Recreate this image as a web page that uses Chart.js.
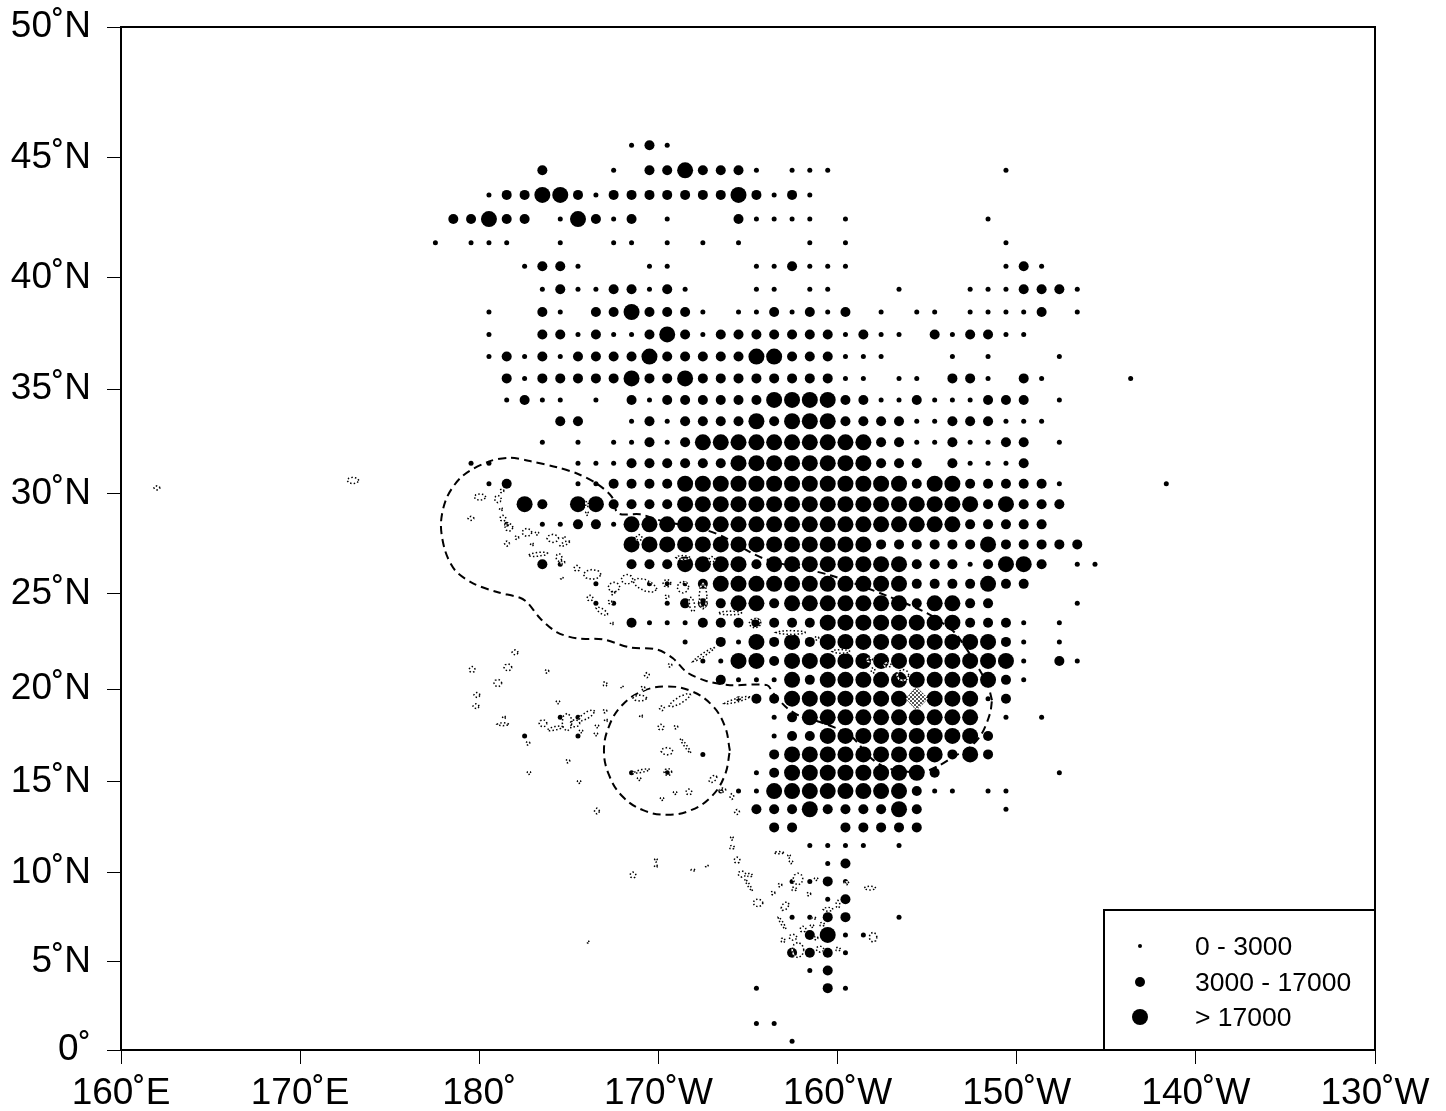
<!DOCTYPE html>
<html>
<head>
<meta charset="utf-8">
<title>Catch map</title>
<script src="https://cdn.jsdelivr.net/npm/chart.js@4"></script>
<style>
  html, body { margin: 0; padding: 0; background: #fff; }
  canvas { display: block; }
</style>
</head>
<body>
<canvas id="map" width="1446" height="1111"></canvas>
<script>
const lonTicks = [160, 170, 180, 190, 200, 210, 220, 230]
const lonLabels = ['160˚E', '170˚E', '180˚', '170˚W', '160˚W', '150˚W', '140˚W', '130˚W']
const latTicks = [0, 5, 10, 15, 20, 25, 30, 35, 40, 45, 50]
const latLabels = ['0˚', '5˚N', '10˚N', '15˚N', '20˚N', '25˚N', '30˚N', '35˚N', '40˚N', '45˚N', '50˚N']

// cell centres, degrees east., they drift a little from the axis
const colLons = [177.55, 178.55, 179.54, 180.54, 181.53, 182.53, 183.52, 184.52, 185.51, 186.51,
  187.50, 188.50, 189.50, 190.49, 191.49, 192.48, 193.48, 194.47, 195.47, 196.46,
  197.46, 198.45, 199.45, 200.44, 201.44, 202.43, 203.43, 204.42, 205.42, 206.41,
  207.40, 208.40, 209.40, 210.39, 211.39, 212.38, 213.38, 214.37, 215.37, 216.36, 217.36, 218.35]

// one row per latitude: first column index, then catch class per cell (. none, 1 small, 2 mid, 3 large)
const rowLats = [45.5, 44.5, 43.5, 42.5, 41.5, 40.5, 39.5, 38.5, 37.5, 36.5, 35.5, 34.5, 33.5, 32.5, 31.5,
  30.5, 29.5, 28.5, 27.5, 26.5, 25.5, 24.5, 23.5, 22.5, 21.5, 20.5, 19.5, 18.5, 17.5, 16.5, 15.5,
  14.5, 13.5, 12.5, 11.5, 10.5, 9.5, 8.5, 7.5, 6.5, 5.5, 4.5, 3.5, 1.5, 0.5]
const rowStart = [11, 6, 3, 1, 0, 5, 6, 3, 3, 3, 4, 4, 7, 6, 2,
  3, 5, 4, 11, 6, 9, 9, 11, 14, 15, 16, 17, 7, 5, 15, 11,
  16, 18, 19, 21, 22, 20, 22, 20, 21, 20, 21, 18, 18, 20]
const rowCells = [
  '121',
  '2...1.2232221.111.........1',
  '1223321222222232121',
  '22322.13212.1...21111.1.......1',
  '1.111..1..11.1.1.1...1.1........1',
  '1221...11....112111........121',
  '121122121...11.11...1...1112221',
  '1..21.2232221.1121212.1.11.11112.1',
  '1..221211232122222221211.212211',
  '12121222232222233222111...1.1...1',
  '212222232232222222211.11.221.21....1',
  '1211.1.21222222333322112111222.1',
  '22..121222232333222211222111',
  '1.1.112123333333333221121122.1',
  '11....11122222233333333222.21112',
  '12...1122223333333333333233222221.....1',
  '32.3322223333333333333333323222',
  '1.11221333333333333333333322222',
  '33333333333333222222322222',
  '21...222333323333333322212332.11',
  '1..1112333333333332222322',
  '11..1222332333333323322....1',
  '21112222222333333332221.1',
  '1.213232333333333321.1',
  '1133233333333333331.21',
  '211132333333333321',
  '1223333333333312',
  '11..........123333333333.1.1',
  '1..1..........1223333333332',
  '1...2333333333232',
  '1.1....12333333332......1',
  '11133333333211.11',
  '2223222232....1',
  '22..22222',
  '1111.1',
  '12',
  '1121',
  '12',
  '1122..1',
  '2311',
  '2221',
  '12',
  '1...21',
  '11',
  '1'
]
const legendLabels = ['0 - 3000', '3000 - 17000', '> 17000']

// dashed boundary around the Hawaiian chain
const eezLine = [[208.62, 19.42], [208.34, 20.33], [206.67, 22.85], [205.88, 23.47], [204.99, 24.0], [202.76, 24.89],
  [199.58, 25.94], [195.84, 26.8], [193.72, 27.84], [192.71, 28.2], [190.09, 28.7], [188.97, 29.0], [187.74, 29.05],
  [187.41, 29.85], [186.57, 30.5], [185.45, 31.0], [184.34, 31.3], [182.83, 31.6], [181.71, 31.76], [180.6, 31.6],
  [179.09, 30.9], [178.2, 29.85], [177.86, 28.55], [178.09, 27.19], [178.65, 26.19], [179.65, 25.53], [180.99, 25.08],
  [182.27, 24.79], [182.72, 24.51], [183.39, 23.73], [184.34, 23.0], [185.45, 22.68], [186.9, 22.63], [188.41, 22.21],
  [189.92, 22.1], [190.81, 21.64], [191.59, 20.9], [192.71, 20.43], [193.99, 20.22], [196.06, 20.22], [196.4, 19.8],
  [197.18, 19.0], [197.9, 18.57], [199.02, 18.25], [200.69, 17.54], [201.81, 16.35], [202.76, 15.76], [204.71, 15.54],
  [205.72, 15.92], [206.44, 16.35], [207.39, 16.89], [208.06, 17.64], [208.51, 18.71], [208.62, 19.42]]
const johnstonLine = [[193.99, 16.7], [193.71, 18.02], [192.99, 19.15], [191.82, 19.91], [190.48, 20.15], [189.14, 19.91],
  [187.97, 19.15], [187.24, 18.02], [186.96, 16.7], [187.24, 15.38], [187.97, 14.23], [189.14, 13.45], [190.48, 13.2],
  [191.82, 13.45], [192.99, 14.23], [193.71, 15.38], [193.99, 16.7]]

// islands: lon, lat, half width, half height (degrees), optional tilt
const islands = [
  [162.01, 30.3, .17, .1], [172.95, 30.66, .33, .16], [180.04, 29.85, .33, .16], [181.04, 29.75, .19, .18],
  [181.27, 30.15, .11, .1], [181.21, 29.25, .08, .08], [179.54, 28.8, .17, .1], [181.32, 28.8, .17, .15],
  [181.66, 28.35, .22, .2], [181.55, 27.54, .14, .13], [182.1, 27.84, .11, .1], [182.66, 28.1, .28, .2],
  [183.22, 28.05, .11, .08], [184.11, 27.8, .33, .2], [184.78, 27.54, .28, .1, .4], [184.73, 27.84, .08, .05],
  [182.94, 27.5, .08, .08], [183.28, 27.0, .56, .1, .1], [184.45, 26.84, .17, .2], [184.67, 26.59, .11, .1],
  [185.45, 26.29, .17, .15], [186.3, 25.98, .5, .25], [184.62, 25.78, .08, .05], [188.25, 25.73, .33, .25],
  [187.52, 25.33, .33, .25], [189.25, 25.43, .67, .3, -.3], [190.48, 25.53, .22, .2], [191.37, 25.33, .33, .3],
  [186.01, 29.5, .08, .15], [186.01, 29.05, .08, .1], [188.92, 27.84, .17, .15], [191.37, 26.84, .39, .1],
  [192.99, 26.74, .17, .15], [192.49, 24.87, .22, .65], [186.18, 24.77, .17, .15], [186.85, 24.09, .33, .15, -.5],
  [187.4, 23.46, .08, .08], [187.46, 25.03, .11, .1], [187.3, 24.57, .11, .1], [190.48, 24.84, .11, .1],
  [194.0, 24.0, .67, .1], [195.39, 23.47, .33, .25], [191.87, 24.45, .17, .35, -1], [192.54, 21.84, .61, .1, .6],
  [190.65, 21.27, .11, .1], [189.36, 20.75, .14, .13], [187.02, 20.28, .11, .13], [187.97, 20.12, .08, .05],
  [189.14, 20.07, .11, .1], [188.97, 19.53, .39, .16], [191.2, 19.42, .61, .2, .5], [190.2, 18.99, .14, .13],
  [194.4, 19.42, .72, .1, .25], [182.0, 21.95, .17, .13], [179.6, 21.05, .17, .16], [181.6, 21.16, .22, .19],
  [183.78, 20.95, .11, .1], [181.04, 20.33, .22, .2], [179.87, 19.7, .17, .13], [179.82, 19.1, .17, .13],
  [181.38, 18.5, .08, .08], [181.32, 18.13, .33, .08], [184.39, 19.31, .11, .08], [183.56, 18.18, .22, .2],
  [184.23, 17.91, .44, .1, .2], [184.9, 18.24, .28, .48], [185.34, 18.18, .28, .2], [186.01, 18.61, .44, .2, .5],
  [187.02, 18.83, .11, .1], [187.07, 18.34, .08, .08], [186.57, 18.02, .11, .08], [186.51, 17.59, .11, .08],
  [185.68, 17.75, .11, .08], [182.72, 17.1, .11, .1], [184.95, 16.13, .11, .1], [182.77, 15.49, .11, .08],
  [185.57, 15.0, .11, .08], [186.57, 13.4, .14, .16], [189.03, 18.56, .08, .08], [190.14, 17.97, .17, .16],
  [190.98, 17.97, .11, .1], [191.51, 16.97, .3, .12, -1.3], [190.48, 16.67, .33, .2], [189.08, 15.6, .44, .08, .2],
  [190.53, 15.54, .22, .2], [188.92, 15.16, .11, .08], [193.05, 15.16, .22, .18, .5], [193.6, 14.56, .17, .11],
  [194.1, 14.2, .11, .16], [194.39, 13.35, .14, .14], [190.93, 14.4, .11, .08], [191.7, 14.45, .17, .16],
  [190.2, 14.07, .11, .08], [194.1, 11.9, .08, .11], [194.1, 11.4, .14, .11], [194.39, 10.68, .17, .17],
  [194.66, 9.91, .22, .17], [195.1, 9.85, .14, .11], [195.03, 9.3, .22, .12, -1.5], [195.56, 8.3, .28, .22],
  [189.86, 10.68, .08, .11], [189.86, 10.35, .08, .08], [188.58, 9.85, .17, .17], [191.93, 10.13, .11, .06],
  [192.71, 10.35, .08, .06], [196.73, 11.1, .28, .06], [197.29, 10.9, .08, .11], [197.4, 10.57, .11, .08],
  [197.79, 9.63, .28, .33], [197.57, 9.08, .14, .11], [196.79, 9.29, .11, .11], [196.4, 8.85, .11, .11],
  [198.8, 9.63, .11, .08], [198.4, 8.79, .11, .11], [197.07, 8.11, .22, .22, .5], [199.47, 7.94, .28, .11],
  [200.02, 8.22, .11, .22], [200.52, 9.4, .11, .08], [201.81, 9.13, .33, .11], [196.9, 7.16, .22, .14, -1.5],
  [198.68, 7.44, .11, .06], [198.57, 7.0, .11, .08], [198.07, 6.82, .17, .17], [199.13, 7.1, .14, .11],
  [198.8, 6.32, .11, .11], [201.98, 6.37, .22, .28], [200.02, 5.7, .14, .11], [199.02, 5.7, .22, .17],
  [196.95, 6.2, .11, .14], [197.51, 6.37, .22, .17], [197.79, 5.65, .33, .44], [186.07, 6.1, .06, .06],
  [200.2, 22.0, .5, .1], [198.85, 22.69, .11, .1], [201.8, 21.55, .17, .1], [201.98, 21.0, .11, .15],
  [202.8, 21.29, .2, .12], [203.65, 20.75, .33, .3], [197.4, 22.99, .83, .1]
]
const hawaiiShape = [[203.8, 19.5], [204.4, 20.12], [205.05, 19.5], [204.4, 18.9], [203.8, 19.5]]

const dotRadius = [0, 2.5, 5, 8]
const ringShape = [[1, 0], [.7, .7], [0, 1], [-.7, .7], [-1, 0], [-.7, -.7], [0, -1], [.7, -.7], [1, 0]]
const FONT = '"Liberation Sans", Arial, sans-serif'

function cellsOfClass(cls) {
  const out = []
  rowCells.forEach((cells, r) => {
    for (let i = 0; i < cells.length; i++) {
      if (cells[i] === String(cls)) out.push({ x: colLons[rowStart[r] + i], y: rowLats[r] })
    }
  })
  return out
}

function islandPoints() {
  const out = []
  islands.forEach(([lon, lat, w, h, tilt]) => {
    ringShape.forEach(([a, b]) => out.push({ x: lon + a * w, y: lat + b * h + a * w * (tilt || 0) }))
    out.push({ x: NaN, y: NaN }) // break the line between islands
  })
  return out
}

const toPoints = list => list.map(([x, y]) => ({ x, y }))

// latitude axis is Mercator, so the tick gaps widen going north
const merc = lat => Math.log(Math.tan(Math.PI / 4 + lat * Math.PI / 360))
class MercatorScale extends Chart.LinearScale {
  getPixelForValue(value) {
    return this.getPixelForDecimal((merc(value) - merc(this.min)) / (merc(this.max) - merc(this.min)))
  }
}
MercatorScale.id = 'mercator'
MercatorScale.defaults = Chart.LinearScale.defaults
Chart.register(MercatorScale)

//checker for the big island, black and white specks
function speckle() {
  const c = document.createElement('canvas')
  c.width = 4
  c.height = 4
  const g = c.getContext('2d')
  g.fillStyle = '#555'
  g.fillRect(0, 0, 4, 4)
  g.fillStyle = '#fff'
  g.fillRect(0, 0, 2, 2)
  g.fillRect(2, 2, 2, 2)
  return g.createPattern(c, 'repeat')
}

// frame on all sides, and the legend box sitting over the corner
const framePlugin = {
  id: 'frame',
  afterDraw(chart) {
    const { ctx, chartArea: a } = chart
    ctx.save()
    ctx.strokeStyle = '#000'
    ctx.lineWidth = 2
    ctx.strokeRect(a.left, a.top, a.right - a.left, a.bottom - a.top)

    const boxLeft = a.right - 271
    const boxTop = a.bottom - 140
    ctx.fillStyle = '#fff'
    ctx.fillRect(boxLeft, boxTop, 271, 140)
    ctx.strokeRect(boxLeft, boxTop, 271, 140)

    const rowY = [946, 982, 1017]
    const legendDot = [2, 5, 8]
    ctx.font = '26.5px ' + FONT
    ctx.textBaseline = 'middle'
    legendLabels.forEach((label, i) => {
      ctx.fillStyle = '#000'
      ctx.beginPath()
      ctx.arc(a.right - 235, rowY[i], legendDot[i], 0, Math.PI * 2)
      ctx.fill()
      ctx.fillText(label, a.right - 180, rowY[i] + 2)
    })
    ctx.restore()
  }
}

const lineStyle = { type: 'scatter', showLine: true, pointRadius: 0, fill: false }

new Chart(document.getElementById('map'), {
  type: 'scatter',
  plugins: [framePlugin],
  data: {
    datasets: [
      { ...lineStyle, label: 'hawaii', data: toPoints(hawaiiShape), order: 1, borderColor: '#000', borderWidth: 1,
        borderDash: [1, 2], backgroundColor: speckle(), fill: 'shape' },
      { ...lineStyle, label: 'islands', data: islandPoints(), order: 2, borderColor: '#000', borderWidth: 1.5,
        borderDash: [1.5, 2.2], spanGaps: false },
      { ...lineStyle, label: 'islands under', data: islandPoints(), order: 3, borderColor: '#fff', borderWidth: 1.5,
        spanGaps: false },
      { ...lineStyle, label: 'boundary', data: toPoints(eezLine), order: 4, borderColor: '#000', borderWidth: 2,
        borderDash: [8, 5], tension: 0.3 },
      { ...lineStyle, label: 'johnston', data: toPoints(johnstonLine), order: 5, borderColor: '#000', borderWidth: 2,
        borderDash: [8, 5], tension: 0.4 },
      { label: legendLabels[0], data: cellsOfClass(1), order: 6, pointRadius: dotRadius[1], backgroundColor: '#000', borderWidth: 0 },
      { label: legendLabels[1], data: cellsOfClass(2), order: 7, pointRadius: dotRadius[2], backgroundColor: '#000', borderWidth: 0 },
      { label: legendLabels[2], data: cellsOfClass(3), order: 8, pointRadius: dotRadius[3], backgroundColor: '#000', borderWidth: 0 }
    ]
  },
  options: {
    responsive: false,
    animation: false,
    events: [],
    layout: { padding: { left: 0, top: 27, right: 71, bottom: 0 } },
    plugins: { legend: { display: false }, tooltip: { enabled: false } },
    scales: {
      x: {
        type: 'linear',
        min: 160,
        max: 230,
        afterBuildTicks(scale) { scale.ticks = lonTicks.map(value => ({ value })) },
        afterFit(scale) { scale.height = 61; scale.paddingLeft = 0; scale.paddingRight = 0 },
        border: { display: true, color: '#000', width: 2 },
        grid: { drawOnChartArea: false, tickLength: 14, tickWidth: 1, tickColor: '#000' },
        ticks: {
          autoSkip: false, maxRotation: 0, padding: 8, color: '#000',
          font: { family: FONT, size: 37 },
          callback: v => lonLabels[lonTicks.indexOf(v)]
        }
      },
      y: {
        type: 'mercator',
        min: 0,
        max: 50,
        afterBuildTicks(scale) { scale.ticks = latTicks.map(value => ({ value })) },
        afterFit(scale) { scale.width = 121; scale.paddingTop = 0; scale.paddingBottom = 0 },
        border: { display: true, color: '#000', width: 2 },
        grid: { drawOnChartArea: false, tickLength: 14, tickWidth: 1, tickColor: '#000' },
        ticks: {
          autoSkip: false, padding: 16, color: '#000',
          font: { family: FONT, size: 37 },
          callback: v => latLabels[latTicks.indexOf(v)]
        }
      }
    }
  }
})
</script>
</body>
</html>
